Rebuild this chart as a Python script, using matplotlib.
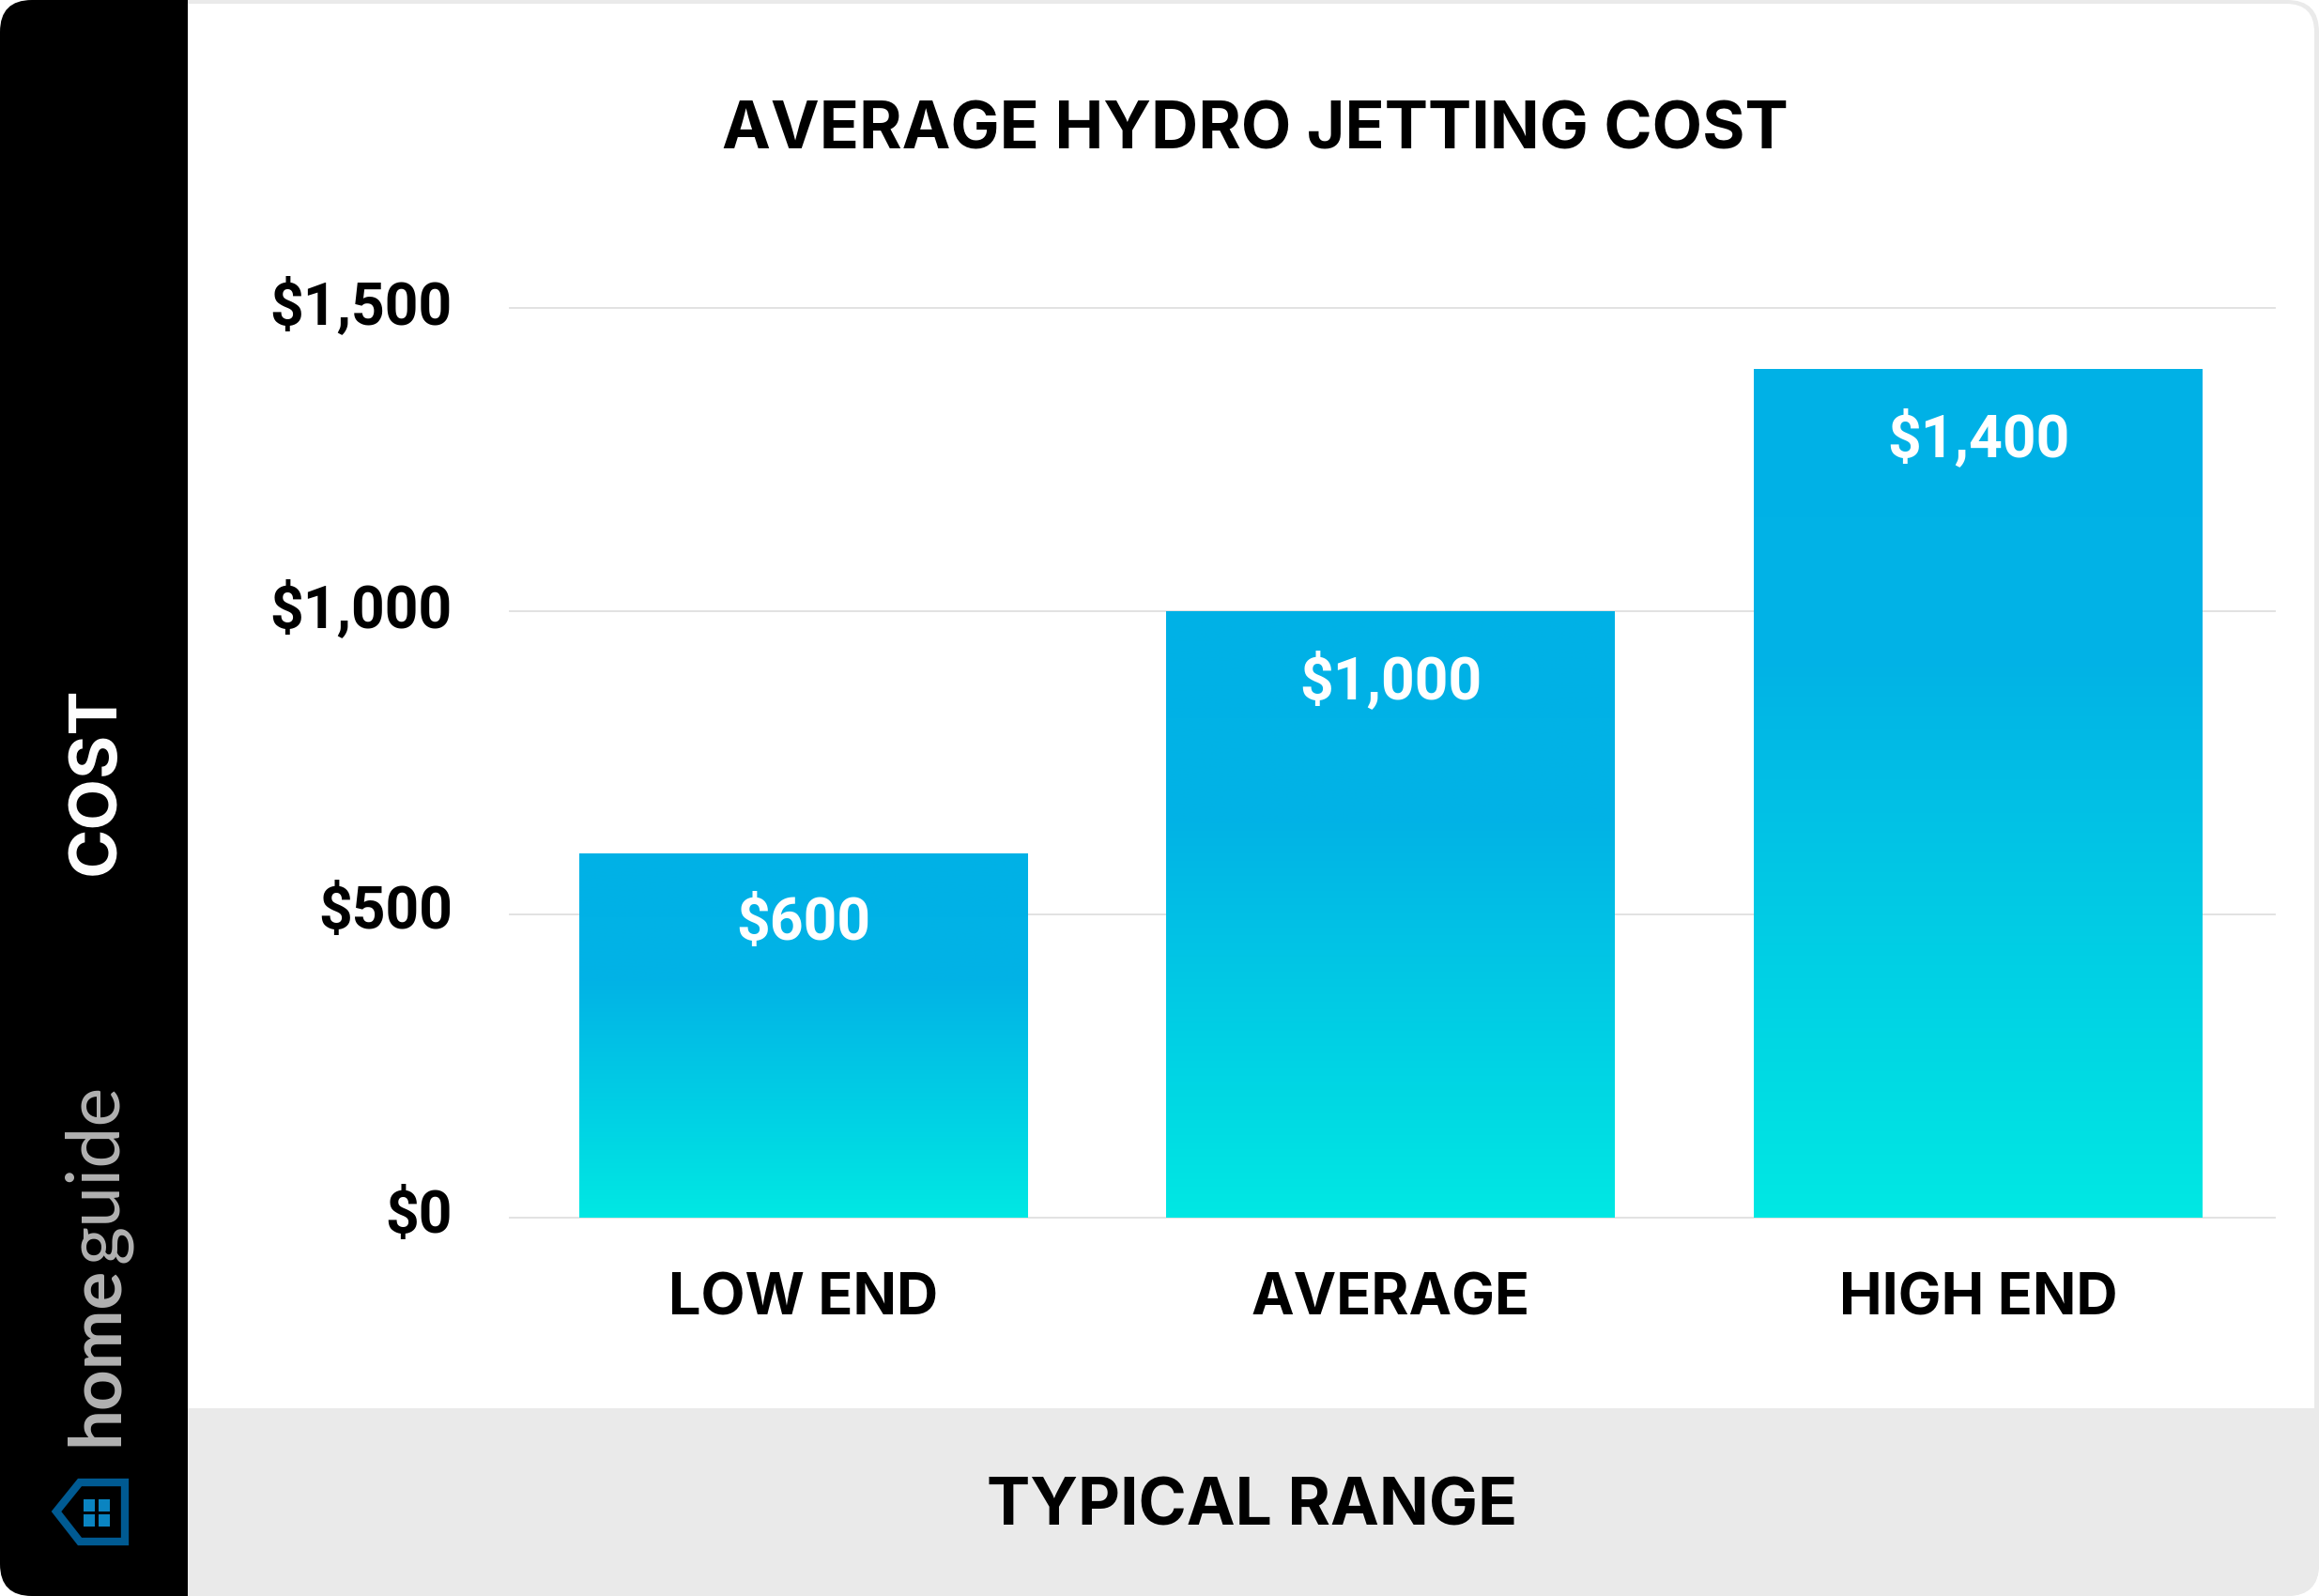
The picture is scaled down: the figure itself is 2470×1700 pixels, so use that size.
#! /usr/bin/env python3

import numpy as np
from matplotlib import pyplot as plt, patches
from matplotlib.colors import LinearSegmentedColormap
from matplotlib.transforms import ScaledTranslation

categories = ['LOW END', 'AVERAGE', 'HIGH END']
values = [600, 1000, 1400]
bar_labels = ['$600', '$1,000', '$1,400']
yticks = [0, 500, 1000, 1500]
ytick_labels = ['$0', '$500', '$1,000', '$1,500']

W, H = 2470, 1700
font = 'Inter'
numfont = 'Roboto'
xlim = (-0.5, 2.505)
gradient = LinearSegmentedColormap.from_list(
    'bar', [(0, '#00e8e3'), (0.65, '#02b3e6'), (1, '#00b1e6')])

fig = plt.figure(figsize=(W / 100, H / 100), dpi=100, facecolor='white')

# frame and side panels, in pixel coordinates
bg = fig.add_axes([0, 0, 1, 1], zorder=0)
bg.set_xlim(0, W)
bg.set_ylim(H, 0)
bg.axis('off')
outer = patches.FancyBboxPatch((0, 0), W, H, boxstyle='round,pad=0,rounding_size=34',
                               fc='#eaeaea', ec='none')
bg.add_patch(outer)
inner = patches.FancyBboxPatch((100, 4), W - 105, 1600, boxstyle='round,pad=0,rounding_size=30',
                               fc='white', ec='none')
bg.add_patch(inner)
bottom = patches.Rectangle((100, 1500), W, 200, fc='#eaeaea', ec='none')
bg.add_patch(bottom)
panel = patches.Rectangle((0, 0), 200, H, fc='black', ec='none')
bg.add_patch(panel)
panel.set_clip_path(outer)
bottom.set_clip_path(outer)

# logo
bg.add_patch(patches.Polygon([(60, 1610), (85, 1579), (133, 1579), (133, 1642), (85, 1642)],
                             closed=True, fill=False, ec='#005a92', lw=6, joinstyle='miter'))
for x0 in (89, 105):
    for y0 in (1597, 1613):
        bg.add_patch(patches.Rectangle((x0, y0), 12, 12.5, fc='#0a84c1', ec='none'))
bg.text(125, 1540, 'home', color='#b2b2b2', family='Lato', weight='bold', fontsize=55,
        rotation=90, ha='left', va='baseline', rotation_mode='anchor')
bg.text(125, 1345, 'guide', color='#b2b2b2', family='Lato', weight='normal', fontsize=57,
        rotation=90, ha='left', va='baseline', rotation_mode='anchor')

bg.text(103, 832, 'COST', color='white', family=font, weight='bold', fontsize=51,
        rotation=90, ha='center', va='center')
bg.text(1337, 140, 'AVERAGE HYDRO JETTING COST', color='black', family=font, weight='bold',
        fontsize=50, ha='center', va='center')
bg.text(1334, 1606, 'TYPICAL RANGE', color='black', family=font, weight='bold',
        fontsize=50, ha='center', va='center')

# chart
ax = fig.add_axes([543 / W, 1 - 1297 / H, (2423 - 543) / W, (1297 - 328) / H], zorder=1)
ax.patch.set_alpha(0)
ax.set_xlim(*xlim)
ax.set_ylim(0, 1500)
x = np.arange(len(categories))
bars = ax.bar(x, values, width=0.764, color='none', zorder=2)
ramp = np.linspace(1, 0, 256).reshape(-1, 1)
for bar, pos, val, label in zip(bars, x, values, bar_labels):
    left = bar.get_x()
    im = ax.imshow(ramp, cmap=gradient, vmin=0, vmax=1, aspect='auto', zorder=2,
                   extent=(left, left + bar.get_width(), 0, val))
    im.set_clip_path(bar)
    ax.annotate(label, xy=(pos, val), xytext=(0, -54), textcoords='offset points',
                ha='center', va='center', color='white', family=numfont, weight='bold',
                fontsize=45, zorder=3)
ax.set_xlim(*xlim)
ax.set_ylim(0, 1500)

ax.set_xticks(x, categories, family=font, weight='bold', fontsize=44)
ax.set_yticks(yticks, ytick_labels, family=numfont, weight='bold', fontsize=45)
ax.tick_params(axis='both', length=0)
ax.tick_params(axis='x', pad=42)
ax.tick_params(axis='y', pad=44)
ax.grid(True, axis='y', color='#dfdfdf', lw=1.3, zorder=1)
ax.set_axisbelow(True)
for line in ax.get_ygridlines():
    line.set_clip_on(False)
for label in ax.get_yticklabels():
    label.set_transform(label.get_transform() + ScaledTranslation(0, 8 / 100, fig.dpi_scale_trans))
for spine in ax.spines.values():
    spine.set_visible(False)

fig.savefig('out.png', dpi=100, facecolor='white')
